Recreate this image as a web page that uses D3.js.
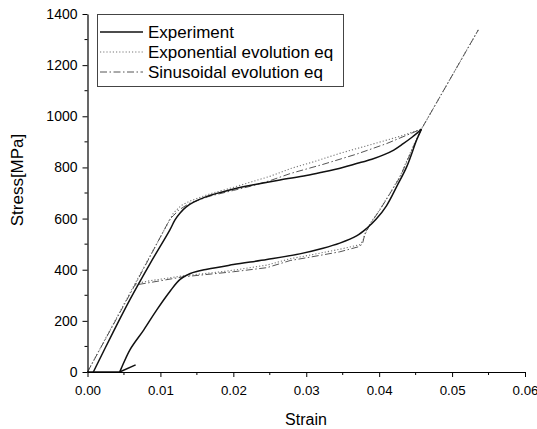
<!DOCTYPE html>
<html>
<head>
<meta charset="utf-8">
<script src="https://cdn.jsdelivr.net/npm/d3@7"></script>
<style>
  html, body { margin: 0; padding: 0; background: #fff; }
  svg { display: block; font-family: "Liberation Sans", Arial, sans-serif; }
</style>
</head>
<body>
<svg id="chart" width="537" height="429"></svg>
<script>
// Axis ticks
const xTicks = [0, 0.01, 0.02, 0.03, 0.04, 0.05, 0.06];
const yTicks = [0, 200, 400, 600, 800, 1000, 1200, 1400];

// Legend entries
const seriesNames = ["Experiment", "Exponential evolution eq", "Sinusoidal evolution eq"];

// Experiment: [strain, stress MPa]
const expBase = [[0, 0], [0.0044, 0]];
const expLoading = [
  [0.0008, 0], [0.0035, 155], [0.0058, 282], [0.0086, 425], [0.0113, 556],
  [0.0120, 595], [0.0127, 622], [0.0135, 645], [0.0145, 663], [0.0163, 686],
  [0.0195, 712], [0.0230, 733], [0.0264, 751], [0.0300, 768], [0.0323, 782],
  [0.0350, 800], [0.0369, 815], [0.0390, 832], [0.0406, 849], [0.0420, 868],
  [0.0433, 893], [0.0445, 918], [0.0452, 934], [0.0458, 950]
];
const expUnloading = [
  [0.0458, 950], [0.04515, 908], [0.0438, 804], [0.0424, 725], [0.0410, 650],
  [0.0396, 598], [0.0383, 562], [0.0369, 532], [0.0346, 504], [0.0323, 484],
  [0.0291, 462], [0.0246, 440], [0.0200, 420], [0.0164, 402], [0.0141, 385],
  [0.0127, 362], [0.0113, 315], [0.0095, 243], [0.0077, 164], [0.0058, 86],
  [0.0046, 12], [0.0044, 0]
];
const expReload = [[0.0044, 0], [0.0066, 28]];

// Exponential evolution model
const expoLoading = [
  [0, 0], [0.0065, 345], [0.0118, 622], [0.0128, 650], [0.0140, 668],
  [0.0168, 697], [0.0200, 722], [0.0223, 742], [0.0250, 765], [0.0280, 797],
  [0.0310, 822], [0.0346, 855], [0.0392, 892], [0.0429, 922], [0.0458, 950],
  [0.0536, 1338]
];
const expoUnloading = [
  [0.0458, 950], [0.0447, 885], [0.0429, 768], [0.0415, 700], [0.0401, 636],
  [0.0388, 582], [0.0381, 545], [0.0378, 515], [0.0374, 498], [0.0346, 480],
  [0.0301, 455], [0.0278, 443], [0.0246, 418], [0.0200, 398], [0.0177, 390],
  [0.0131, 376], [0.0086, 357], [0.0065, 345]
];

// Sinusoidal evolution model
const sinLoading = [
  [0, 0], [0.0065, 340], [0.0113, 598], [0.0118, 612], [0.0125, 633],
  [0.0140, 660], [0.0168, 688], [0.0200, 710], [0.0223, 726], [0.0250, 748],
  [0.0278, 776], [0.0323, 812], [0.0369, 852], [0.0410, 893], [0.0458, 950],
  [0.0536, 1338]
];
const sinUnloading = [
  [0.0458, 950], [0.0447, 882], [0.0429, 764], [0.0415, 699], [0.0401, 634],
  [0.0388, 580], [0.0380, 535], [0.0377, 500], [0.0372, 490], [0.0346, 470],
  [0.0301, 447], [0.0278, 436], [0.0246, 408], [0.0200, 392], [0.0131, 372],
  [0.0086, 350], [0.0065, 340]
];

const svg = d3.select("#chart");
const x = d3.scaleLinear().domain([0, 0.06]).range([87.5, 525]);
const y = d3.scaleLinear().domain([0, 1400]).range([372, 14]);

const straight = d3.line().x(d => x(d[0])).y(d => y(d[1]));
const smooth = d3.line().x(d => x(d[0])).y(d => y(d[1])).curve(d3.curveCatmullRom.alpha(0.5));

const styles = [
  { stroke: "#111", width: 1.5, dash: null },
  { stroke: "#777", width: 1.1, dash: "1.2,2" },
  { stroke: "#555", width: 1.0, dash: "7,2.5,1.5,2.5" }
];

const plot = svg.append("g");
function draw(data, s, gen) {
  plot.append("path")
    .attr("d", gen(data))
    .attr("fill", "none")
    .attr("stroke", s.stroke)
    .attr("stroke-width", s.width)
    .attr("stroke-dasharray", s.dash)
    .attr("stroke-linejoin", "round");
}
[expoLoading, expoUnloading].forEach(d => draw(d, styles[1], straight));
[sinLoading, sinUnloading].forEach(d => draw(d, styles[2], straight));
[expBase, expReload].forEach(d => draw(d, styles[0], straight));
[expLoading, expUnloading].forEach(d => draw(d, styles[0], smooth));

// Axes: left and bottom only, ticks outward with minor ticks
const xMinor = d3.range(0.005, 0.06, 0.01);
const yMinor = d3.range(100, 1400, 200);

const xAxis = svg.append("g").attr("transform", `translate(0,${y(0)})`);
xAxis.call(d3.axisBottom(x).tickValues(xTicks).tickFormat(d3.format(".2f")).tickSize(5).tickPadding(9).tickSizeOuter(0));
xAxis.selectAll(".minor").data(xMinor).enter().append("line")
  .attr("x1", d => x(d)).attr("x2", d => x(d)).attr("y1", 0).attr("y2", 3)
  .attr("stroke", "#000");
xAxis.selectAll(".tick text").attr("font-size", 13.3);

const yAxis = svg.append("g").attr("transform", `translate(${x(0)},0)`);
yAxis.call(d3.axisLeft(y).tickValues(yTicks).tickFormat(d3.format("d")).tickSize(5).tickPadding(5).tickSizeOuter(0));
yAxis.selectAll(".minor").data(yMinor).enter().append("line")
  .attr("x1", 0).attr("x2", -3).attr("y1", d => y(d)).attr("y2", d => y(d))
  .attr("stroke", "#000");
yAxis.selectAll(".tick text").attr("font-size", 14);

svg.selectAll(".domain").attr("stroke", "#000").attr("stroke-width", 1.2);
svg.selectAll(".tick line").attr("stroke", "#000");
svg.selectAll(".tick text").attr("fill", "#000")
  .attr("font-family", "'Liberation Sans', Arial, sans-serif");

// Axis titles
svg.append("text").attr("x", 306).attr("y", 425).attr("text-anchor", "middle")
  .attr("font-size", 16).text("Strain");
svg.append("text").attr("transform", "translate(23,180) rotate(-90)")
  .attr("text-anchor", "middle").attr("font-size", 17).text("Stress[MPa]");

// Legend
const legend = svg.append("g");
legend.append("rect").attr("x", 97.5).attr("y", 14.5).attr("width", 246).attr("height", 72)
  .attr("fill", "#fff").attr("stroke", "#444").attr("stroke-width", 1);
const rows = [32, 52, 72];
seriesNames.forEach((name, i) => {
  const s = styles[i];
  legend.append("line")
    .attr("x1", 100).attr("x2", 143).attr("y1", rows[i]).attr("y2", rows[i])
    .attr("stroke", s.stroke).attr("stroke-width", s.width)
    .attr("stroke-dasharray", s.dash);
  legend.append("text").attr("x", 148).attr("y", rows[i] + 6)
    .attr("font-size", 17).text(name);
});
</script>
</body>
</html>
